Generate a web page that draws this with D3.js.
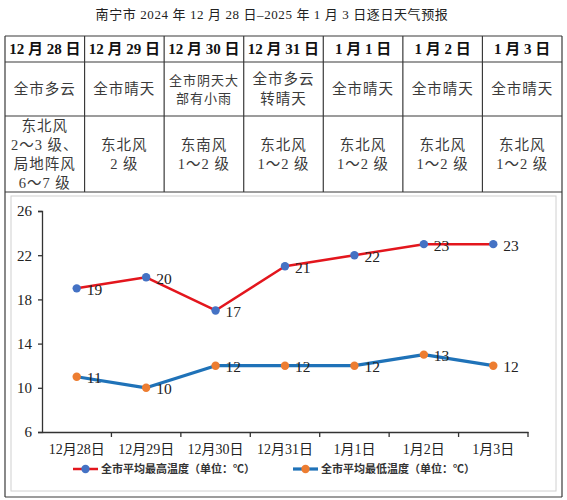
<!DOCTYPE html>
<html><head><meta charset="utf-8">
<script src="https://cdn.jsdelivr.net/npm/d3@7"></script>
<style>
html,body{margin:0;padding:0;background:#fff;}
svg{display:block;}
</style></head>
<body>
<script>
// ---- data ----
const titleText = "南宁市 2024 年 12 月 28 日–2025 年 1 月 3 日逐日天气预报";
const categories = ["12月28日","12月29日","12月30日","12月31日","1月1日","1月2日","1月3日"];
const headerDates = ["12 月 28 日","12 月 29 日","12 月 30 日","12 月 31 日","1 月 1 日","1 月 2 日","1 月 3 日"];
const weatherDesc = [["全市多云"],["全市晴天"],["全市阴天大","部有小雨"],["全市多云","转晴天"],["全市晴天"],["全市晴天"],["全市晴天"]];
const windDesc = [["东北风","2～3 级、","局地阵风","6～7 级"],["东北风","2 级"],["东南风","1～2 级"],["东北风","1～2 级"],["东北风","1～2 级"],["东北风","1～2 级"],["东北风","1～2 级"]];
const highTemps = [19,20,17,21,22,23,23];
const lowTemps = [11,10,12,12,12,13,12];
const yTicks = [6,10,14,18,22,26];
const legendLabels = ["全市平均最高温度（单位：℃）","全市平均最低温度（单位：℃）"];

const W = 567, H = 500;
const FONT = "'Liberation Serif','Times New Roman','Noto Sans CJK SC',serif";
const svg = d3.select("body").append("svg").attr("width", W).attr("height", H);
svg.append("rect").attr("width", W).attr("height", H).attr("fill", "#fff");

// title
svg.append("text").attr("x", 272).attr("y", 14).attr("dy", "0.35em")
  .attr("text-anchor", "middle").attr("font-family", FONT).attr("font-size", 13)
  .attr("letter-spacing", 0.6).attr("fill", "#222").text(titleText);

// ---- table ----
const tLeft = 5, tRight = 562;
const rowY = [36, 62, 116, 192, 497];
const col = d3.scaleBand().domain(d3.range(categories.length)).range([tLeft, tRight]);
const g = svg.append("g");
const lineColor = "#3a3a3a";
g.selectAll("line.h").data(rowY).join("line")
  .attr("x1", tLeft).attr("x2", tRight).attr("y1", d => d).attr("y2", d => d)
  .attr("stroke", lineColor).attr("stroke-width", 1.2);
[tLeft, tRight].forEach(x => g.append("line").attr("x1", x).attr("x2", x)
  .attr("y1", rowY[0]).attr("y2", rowY[4]).attr("stroke", lineColor).attr("stroke-width", 1.2));
g.selectAll("line.v").data(d3.range(1, categories.length)).join("line")
  .attr("x1", d => col(d)).attr("x2", d => col(d)).attr("y1", rowY[0]).attr("y2", rowY[3])
  .attr("stroke", lineColor).attr("stroke-width", 1.2);

// header
g.selectAll("text.hd").data(headerDates).join("text")
  .attr("x", (d, i) => col(i) + col.bandwidth() / 2).attr("y", 49).attr("dy", "0.36em")
  .attr("text-anchor", "middle").attr("font-family", FONT).attr("font-size", 15)
  .attr("font-weight", "bold").attr("fill", "#111").text(d => d);

function multiLine(rows, cy, spacing, sizeFn) {
  rows.forEach((lines, i) => {
    const fs = sizeFn(lines, i);
    const sp = spacing(lines, i);
    const y0 = cy - (lines.length - 1) * sp / 2;
    lines.forEach((t, j) => {
      g.append("text").attr("x", col(i) + col.bandwidth() / 2).attr("y", y0 + j * sp)
        .attr("dy", "0.36em").attr("text-anchor", "middle").attr("font-family", FONT)
        .attr("font-size", fs).attr("fill", "#3a3a3a").attr("letter-spacing", 1).text(t);
    });
  });
}
multiLine(weatherDesc, 89, (l, i) => (i === 2 ? 18 : 20), (l, i) => (i === 2 ? 13 : 14.5));
multiLine(windDesc, 154.5, () => 19, () => 14.5);

// chart inner border
svg.append("rect").attr("x", 11).attr("y", 196).attr("width", 545).attr("height", 295)
  .attr("fill", "none").attr("stroke", "#d0d0d0").attr("stroke-width", 1);

// ---- chart ----
const x = d3.scaleBand().domain(categories).range([42, 528]);
const y = d3.scaleLinear().domain([6, 26]).range([432, 211]);
const cx = d => x(d) + x.bandwidth() / 2;

const yAxis = svg.append("g").attr("transform", "translate(42,0)")
  .call(d3.axisLeft(y).tickValues(yTicks).tickSize(4).tickPadding(6).tickFormat(d3.format("d")));
yAxis.select(".domain").attr("stroke", "#333").attr("stroke-width", 1.3);
yAxis.selectAll(".tick line").attr("stroke", "#333").attr("stroke-width", 1.3);
yAxis.selectAll("text").attr("font-family", FONT).attr("font-size", 15).attr("fill", "#222");

const xAxis = svg.append("g").attr("transform", "translate(0,432)")
  .call(d3.axisBottom(x).tickSize(0).tickPadding(12));
xAxis.select(".domain").attr("stroke", "#333").attr("stroke-width", 1.3);
xAxis.selectAll("text").attr("font-family", FONT).attr("font-size", 14).attr("fill", "#222");
xAxis.selectAll("line.bt").data(categories).join("line")
  .attr("x1", d => x(d) + x.bandwidth()).attr("x2", d => x(d) + x.bandwidth())
  .attr("y1", 0).attr("y2", 5).attr("stroke", "#333").attr("stroke-width", 1.3);

const series = [
  { values: highTemps, line: "#e3161d", marker: "#4472c4", width: 2.5 },
  { values: lowTemps, line: "#1f72b8", marker: "#ed7d31", width: 3.2 }
];
const lineGen = d3.line().x(d => cx(d.c)).y(d => y(d.v));
series.forEach(s => {
  const pts = categories.map((c, i) => ({ c, v: s.values[i] }));
  svg.append("path").datum(pts).attr("d", lineGen).attr("fill", "none")
    .attr("stroke", s.line).attr("stroke-width", s.width).attr("stroke-linejoin", "round");
  svg.append("g").selectAll("circle").data(pts).join("circle")
    .attr("cx", d => cx(d.c)).attr("cy", d => y(d.v)).attr("r", 4.2).attr("fill", s.marker);
  svg.append("g").selectAll("text").data(pts).join("text")
    .attr("x", d => cx(d.c) + 10).attr("y", d => y(d.v) + 1).attr("dy", "0.35em")
    .attr("font-family", FONT).attr("font-size", 15.5).attr("fill", "#222").text(d => d.v);
});

// legend
const legendX = [73, 293];
legendLabels.forEach((lab, i) => {
  const s = series[i];
  const lg = svg.append("g").attr("transform", `translate(${legendX[i]},469)`);
  lg.append("line").attr("x1", 0).attr("x2", 25).attr("y1", 0).attr("y2", 0)
    .attr("stroke", s.line).attr("stroke-width", s.width);
  lg.append("circle").attr("cx", 12.5).attr("cy", 0).attr("r", 4.2).attr("fill", s.marker);
  lg.append("text").attr("x", 28).attr("y", 0).attr("dy", "0.36em")
    .attr("font-family", FONT).attr("font-size", 11).attr("font-weight", "bold")
    .attr("fill", "#333").text(lab);
});
</script>
</body></html>
